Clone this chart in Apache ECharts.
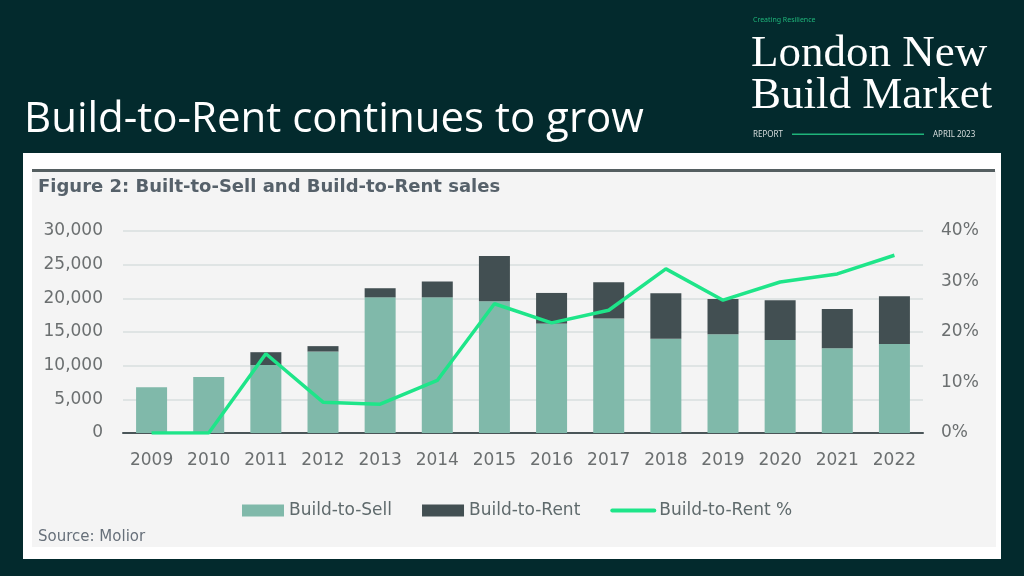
<!DOCTYPE html>
<html>
<head>
<meta charset="utf-8">
<script src="https://cdn.jsdelivr.net/npm/echarts@6/dist/echarts.min.js"></script>
<style>
html,body{margin:0;padding:0;background:#032a2d;}
#chart{width:1024px;height:576px;}
</style>
</head>
<body>
<div id="chart"></div>
<script>
const years = ['2009','2010','2011','2012','2013','2014','2015','2016','2017','2018','2019','2020','2021','2022'];
const buildToSell = [6800, 8300, 10100, 12100, 20150, 20150, 19550, 16250, 17000, 14000, 14650, 13800, 12600, 13200];
const buildToRent = [0, 0, 1900, 800, 1350, 2350, 6750, 4550, 5400, 6750, 5250, 5900, 5800, 7100];
const buildToRentPct = [0, 0, 15.7, 6.1, 5.7, 10.4, 25.6, 21.8, 24.3, 32.5, 26.3, 29.9, 31.5, 35.2];
const leftTicks = [0, 5000, 10000, 15000, 20000, 25000, 30000];
const rightTicks = [0, 10, 20, 30, 40];

const chart = echarts.init(document.getElementById('chart'));
const axisText = {color:'#6b6f70', fontSize:17, fontFamily:'DejaVu Sans'};
chart.setOption({
  backgroundColor:'#032a2d',
  animation:false,
  graphic:{
    elements:[
      {type:'rect', z:-100, silent:true, shape:{x:23,y:153,width:978,height:406}, style:{fill:'#ffffff'}},
      {type:'rect', z:-99, silent:true, shape:{x:32,y:171,width:964,height:376}, style:{fill:'#f4f4f4'}},
      {type:'rect', z:-98, silent:true, shape:{x:32,y:169,width:963,height:3}, style:{fill:'#555f61'}},
      {type:'text', left:38, top:178, style:{text:'Figure 2: Built-to-Sell and Build-to-Rent sales', fill:'#56616a', font:'bold 18px "DejaVu Sans"'}},
      {type:'text', left:38, top:530, style:{text:'Source: Molior', fill:'#67707a', font:'15px "DejaVu Sans"'}},
      {type:'text', left:24, top:99, style:{text:'Build-to-Rent continues to grow', fill:'#ffffff', font:'42px "Open Sans"'}},
      {type:'text', left:753, top:16, style:{text:'Creating Resilience', fill:'#1fb47a', font:'7px "Noto Sans"'}},
      {type:'text', left:751, top:32, style:{text:'London New', fill:'#ffffff', font:'45px "Liberation Serif"'}},
      {type:'text', left:751, top:74, style:{text:'Build Market', fill:'#ffffff', font:'45px "Liberation Serif"'}},
      {type:'text', left:753, top:131, style:{text:'REPORT', fill:'#d8dede', font:'8px "Noto Sans"'}},
      {type:'rect', shape:{x:792,y:133.5,width:132,height:1.5}, style:{fill:'#1fb47a'}},
      {type:'text', left:933, top:131, style:{text:'APRIL 2023', fill:'#d8dede', font:'8px "Noto Sans"'}}
    ]
  },
  legend:{
    bottom:52, left:237,
    itemWidth:42, itemHeight:12, itemGap:30,
    textStyle:{color:'#5f6a6c', fontSize:17, fontFamily:'DejaVu Sans'},
    data:[
      {name:'Build-to-Sell', icon:'rect'},
      {name:'Build-to-Rent', icon:'rect'},
      {name:'Build-to-Rent %', itemStyle:{opacity:0}, lineStyle:{width:4, cap:'round'}}
    ]
  },
  grid:{left:123, right:101, top:231, bottom:143},
  xAxis:{
    type:'category', data:years,
    axisLine:{lineStyle:{color:'#4a5558', width:2}},
    axisTick:{show:false},
    axisLabel:Object.assign({margin:19}, axisText)
  },
  yAxis:[
    {type:'value', min:0, max:30000, interval:5000,
     axisLabel:Object.assign({margin:20, formatter:v=>v.toLocaleString('en-US')}, axisText),
     splitLine:{lineStyle:{color:'#dfe4e4', width:2}},
     axisLine:{show:false}, axisTick:{show:false}},
    {type:'value', min:0, max:40, interval:10, position:'right',
     axisLabel:Object.assign({margin:18, formatter:v=>v+'%'}, axisText),
     splitLine:{show:false}, axisLine:{show:false}, axisTick:{show:false}}
  ],
  series:[
    {name:'Build-to-Sell', type:'bar', stack:'s', data:buildToSell, barWidth:31, itemStyle:{color:'#80b9aa'}},
    {name:'Build-to-Rent', type:'bar', stack:'s', data:buildToRent, barWidth:31, itemStyle:{color:'#424f52'}},
    {name:'Build-to-Rent %', type:'line', yAxisIndex:1, data:buildToRentPct, symbol:'none',
     lineStyle:{color:'#1ee589', width:3.5}, itemStyle:{color:'#1ee589'}}
  ]
});
</script>
</body>
</html>
